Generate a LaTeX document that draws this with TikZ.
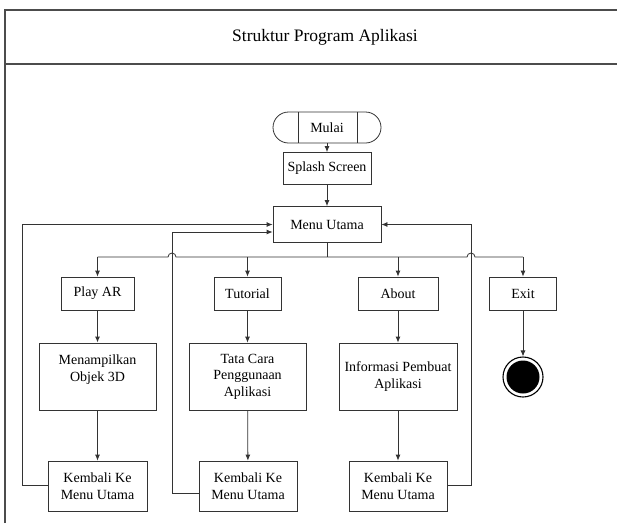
\documentclass[tikz,border=0pt]{standalone}
\usepackage{fontspec}
\setmainfont{Liberation Serif}
\usetikzlibrary{arrows.meta}
\begin{document}
\begin{tikzpicture}[x=1pt,y=-1pt,
  ln/.style={draw=black!80,line width=0.8pt},
  arr/.style={ln,-{Latex[length=6pt,width=5pt]}},
  box/.style={draw=black!80,line width=0.8pt,align=center,inner sep=1pt,
    font=\fontsize{14}{16.5}\selectfont},
  frame/.style={draw=black!70,line width=1.1pt}]
\useasboundingbox (0,0) rectangle (617,523);
% frame
\draw[frame] (5,523) -- (5,10) -- (617,10);
\draw[frame] (5,64) -- (617,64);
\node[font=\fontsize{17.5}{20}\selectfont] (title) at (325,37.5) {Struktur Program Aplikasi};
% start
\node[box,minimum width=108pt,minimum height=31pt,rounded corners=15.5pt] (mulai) at (327,127.5) {Mulai};
\draw[ln] (298,112) -- (298,143) (357,112) -- (357,143);
\node[box,minimum width=88pt,minimum height=32pt] (splash) at (327,168.5) {Splash Screen};
\node[box,minimum width=108pt,minimum height=36pt] (menu) at (327,224.5) {Menu Utama};
% level 2
\node[box,minimum width=73pt,minimum height=33pt] (play) at (97.5,293.5) {Play AR};
\node[box,minimum width=67pt,minimum height=33pt] (tut) at (247.5,293.5) {Tutorial};
\node[box,minimum width=80pt,minimum height=33pt] (about) at (398,293.5) {About};
\node[box,minimum width=67pt,minimum height=33pt] (exit) at (523,293.5) {Exit};
% level 3
\node[box,minimum width=117pt,minimum height=67pt] (objek) at (97.5,376.5) {Menampilkan\\Objek 3D\\\phantom{X}};
\node[box,minimum width=117pt,minimum height=67pt] (tata) at (247.5,376.5) {Tata Cara\\Penggunaan\\Aplikasi};
\node[box,minimum width=118pt,minimum height=67pt] (info) at (398,376.5) {Informasi Pembuat\\Aplikasi};
% end
\node[circle,draw=black,line width=1.1pt,minimum size=40pt,inner sep=0pt] (end) at (523,377) {};
\fill[black] (end.center) circle (16.5pt);
% level 4
\node[box,minimum width=99pt,minimum height=50pt] (k1) at (97.5,486) {Kembali Ke\\Menu Utama};
\node[box,minimum width=98pt,minimum height=50pt] (k2) at (248,486) {Kembali Ke\\Menu Utama};
\node[box,minimum width=98pt,minimum height=50pt] (k3) at (398,486) {Kembali Ke\\Menu Utama};
% connectors
\draw[arr] (mulai) -- (splash);
\draw[arr] (splash) -- (menu);
\coordinate (bus) at (327,257);
\coordinate (jl) at (172,257);
\coordinate (jr) at (471,257);
\draw[ln] (menu) -- (bus);
\draw[ln] (play.north |- bus) -- ([xshift=-4pt]jl) arc[start angle=180,end angle=0,radius=4pt]
  -- ([xshift=-4pt]jr) arc[start angle=180,end angle=0,radius=4pt] -- (exit.north |- bus);
\draw[arr] (play.north |- bus) -- (play);
\draw[arr] (tut.north |- bus) -- (tut);
\draw[arr] (about.north |- bus) -- (about);
\draw[arr] (exit.north |- bus) -- (exit);
\draw[arr,line width=1.5pt] (play) -- (objek);
\draw[arr] (tut) -- (tata);
\draw[arr] (about) -- (info);
\draw[arr] (exit) -- (end);
\draw[arr] (objek) -- (k1);
\draw[arr] (tata) -- (k2);
\draw[arr] (info) -- (k3);
% returns
\coordinate (r1) at (22,485);
\coordinate (r2) at (172,493);
\coordinate (r3) at (471,485);
\draw[arr] (k1.west |- r1) -- (r1) -- (r1 |- menu.west) -- (menu.west);
\draw[arr] (k2.west |- r2) -- (r2) -- (172,232) -- (menu.west |- 172,232);
\draw[arr] (k3.east |- r3) -- (r3) -- (r3 |- menu.east) -- (menu.east);
\end{tikzpicture}
\end{document}
